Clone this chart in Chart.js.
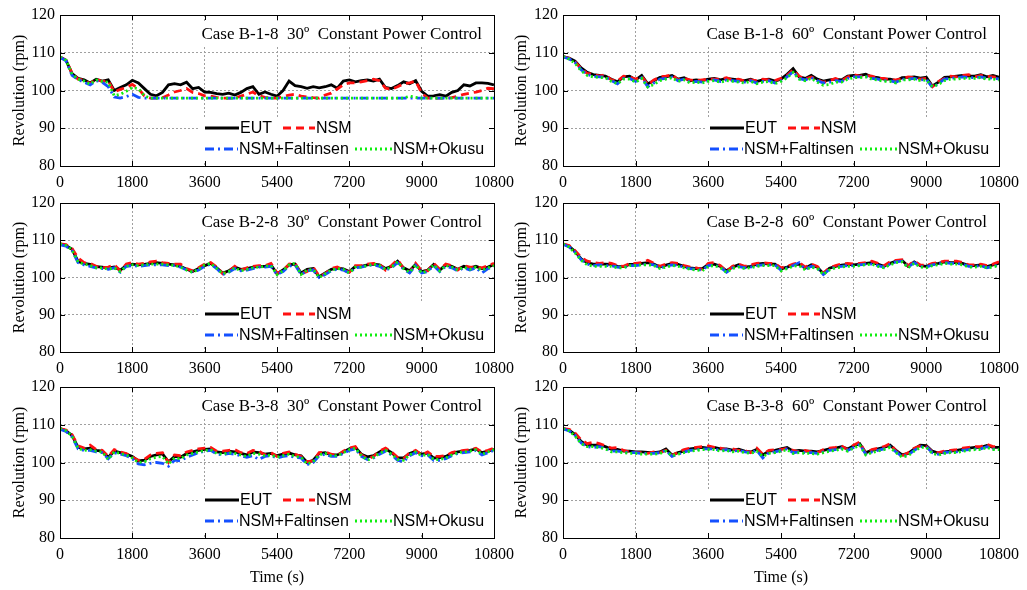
<!DOCTYPE html>
<html lang="en">
<head>
    <meta charset="UTF-8">
    <title>Revolution time series</title>
    <style>
        body {margin: 0; background: #fff;}
        #wrap {position: relative; width: 1027px; height: 590px; overflow: hidden;}
        #wrap canvas {position: absolute;}
    </style>
    <script src="https://cdn.jsdelivr.net/npm/chart.js@4.4.1/dist/chart.umd.min.js"></script>
</head>
<body>
<div id="wrap"></div>
<script>
// time axis, s (one sample every 150 s)
const times = [0,150,300,450,600,750,900,1050,1200,1350,1500,1650,
  1800,1950,2100,2250,2400,2550,2700,2850,3000,3150,3300,3450,
  3600,3750,3900,4050,4200,4350,4500,4650,4800,4950,5100,5250,
  5400,5550,5700,5850,6000,6150,6300,6450,6600,6750,6900,7050,
  7200,7350,7500,7650,7800,7950,8100,8250,8400,8550,8700,8850,
  9000,9150,9300,9450,9600,9750,9900,10050,10200,10350,10500,10650,
  10800];
const xTicks = [0,1800,3600,5400,7200,9000,10800];
const yTicks = [80,90,100,110,120];
const seriesNames = ['EUT','NSM','NSM+Faltinsen','NSM+Okusu'];

// Case B-1-8 30 deg
const b18_30_eut = [108.9,108.0,104.5,103.2,102.8,102.0,103.0,102.5,102.8,100.0,100.8,101.5,
  102.7,102.0,100.5,99.0,98.6,99.5,101.5,101.8,101.5,102.2,100.5,100.8,
  99.6,99.5,99.2,99.0,99.3,98.8,99.5,100.5,101.0,99.0,99.6,99.0,
  98.5,100.0,102.5,101.3,101.0,100.6,101.0,100.7,101.0,101.5,100.6,102.5,
  102.8,102.3,102.6,102.8,102.5,103.0,100.8,100.5,101.3,102.3,101.8,102.6,
  99.8,98.5,98.6,98.9,98.5,99.5,100.0,101.5,101.2,102.0,102.0,101.9,
  101.5];
const b18_30_nsm = [108.9,108.0,104.6,103.0,102.7,101.8,103.0,102.4,102.6,99.6,100.3,100.8,
  101.6,100.5,98.6,98.0,98.0,98.1,98.8,99.6,100.0,100.5,99.5,99.2,
  98.6,98.5,98.2,98.0,98.0,98.0,98.5,99.0,99.6,98.6,98.2,98.0,
  98.0,98.4,98.8,99.0,98.5,98.3,98.1,98.0,98.8,99.3,100.4,101.5,
  102.0,102.0,102.3,102.6,103.0,102.6,100.6,100.3,101.0,101.8,102.0,102.5,
  99.3,98.0,98.0,98.0,98.0,98.1,98.5,99.0,99.3,99.6,100.0,100.6,
  100.5];
const b18_30_falt = [108.8,107.9,104.0,102.9,102.2,101.5,102.6,102.2,101.0,98.3,98.0,98.4,
  99.0,98.2,98.0,98.0,98.0,98.0,98.0,98.0,98.0,98.0,98.0,98.0,
  98.0,98.0,98.0,98.0,98.0,98.0,98.0,98.0,98.0,98.0,98.0,98.0,
  98.0,98.0,98.0,98.0,98.0,98.0,98.0,98.0,98.0,98.0,98.0,98.0,
  98.0,98.0,98.0,98.0,98.0,98.0,98.0,98.0,98.0,98.0,98.0,98.0,
  98.0,98.0,98.0,98.0,98.0,98.0,98.0,98.0,98.0,98.0,98.0,98.0,
  98.0];
const b18_30_okusu = [108.9,108.0,104.3,103.0,102.5,101.7,102.8,102.4,102.2,98.6,99.0,99.8,
  100.8,100.5,98.6,98.0,98.0,98.0,98.0,98.0,98.0,98.0,98.0,98.0,
  98.0,98.0,98.0,98.0,98.0,98.0,98.0,98.0,98.0,98.0,98.0,98.0,
  98.0,98.0,98.0,98.0,98.0,98.0,98.0,98.0,98.0,98.0,98.0,98.0,
  98.0,98.0,98.0,98.0,98.0,98.0,98.0,98.0,98.0,98.0,98.5,98.2,
  98.0,98.0,98.0,98.0,98.0,98.0,98.0,98.0,98.0,98.0,98.0,98.0,
  98.0];

// Case B-1-8 60 deg
const b18_60_eut = [109.0,108.6,107.8,106.0,104.8,104.2,104.0,103.8,103.0,102.3,103.6,103.8,
  102.8,104.0,101.8,102.6,103.5,103.6,104.0,103.0,103.4,102.6,102.8,102.6,
  103.0,103.2,102.8,103.2,103.0,102.8,102.6,103.0,102.4,102.8,103.0,102.5,
  103.0,104.3,105.8,103.6,103.2,104.0,103.0,102.5,102.8,103.0,102.8,103.8,
  104.0,104.0,104.3,103.6,103.4,103.0,103.0,102.6,103.4,103.5,103.6,103.3,
  103.5,101.2,102.2,103.5,103.6,103.8,104.0,103.8,103.8,104.2,103.6,104.0,
  103.5];
const b18_60_nsm = [109.0,108.5,107.6,105.8,104.5,104.3,103.8,104.2,102.8,102.5,103.8,103.6,
  103.0,103.8,101.5,102.8,103.6,103.8,104.2,102.8,103.2,102.8,102.6,102.8,
  103.0,103.0,103.0,103.4,102.8,103.0,102.5,102.8,102.6,103.0,102.8,102.6,
  103.2,104.0,105.5,103.8,103.0,103.6,102.8,102.2,102.6,103.2,102.6,103.6,
  104.2,103.8,104.0,103.8,103.2,103.2,102.8,102.8,103.2,103.6,103.4,103.0,
  103.2,101.0,102.4,103.2,103.8,103.6,104.0,104.2,103.6,104.0,103.8,103.6,
  103.4];
const b18_60_falt = [108.9,108.4,107.4,105.5,104.2,103.8,103.6,103.6,102.6,101.8,103.2,103.2,
  102.4,103.4,101.0,102.0,103.0,103.2,103.6,102.6,103.0,102.2,102.4,102.2,
  102.6,102.8,102.4,102.8,102.6,102.4,102.2,102.6,102.0,102.4,102.6,102.0,
  102.6,103.6,105.0,103.2,102.8,103.4,102.6,102.0,102.2,102.6,102.4,103.2,
  103.6,103.6,103.8,103.2,103.0,102.6,102.6,102.2,103.0,103.0,103.2,102.8,
  103.0,100.8,101.8,103.0,103.2,103.4,103.6,103.4,103.4,103.6,103.2,103.4,
  103.0];
const b18_60_okusu = [109.0,108.3,107.2,105.2,104.0,103.6,103.4,103.4,102.4,101.8,103.0,103.0,
  102.2,103.2,100.9,101.6,102.6,103.0,103.4,102.4,102.8,102.0,102.2,102.0,
  102.4,102.6,102.2,102.6,102.4,102.2,102.0,102.4,101.8,102.2,102.4,101.8,
  102.4,103.4,104.8,103.0,102.6,103.2,102.2,101.4,101.6,102.2,102.2,103.0,
  103.4,103.4,103.6,103.0,102.8,102.4,102.4,102.0,102.8,102.8,103.0,102.6,
  102.8,101.0,101.6,102.6,103.0,103.0,103.2,103.2,103.2,103.4,103.0,103.0,
  102.8];

// Case B-2-8 30 deg
const b28_30_eut = [109.0,108.6,107.6,104.3,103.8,103.5,102.9,102.8,102.5,102.8,102.0,103.2,
  103.6,103.4,103.5,103.8,104.0,103.8,103.6,103.4,103.0,102.2,101.6,102.4,
  103.2,103.8,102.6,101.2,101.8,102.8,102.2,102.4,102.8,103.0,103.0,103.4,
  101.0,102.0,103.4,103.6,101.2,102.2,102.4,100.2,101.2,102.2,102.5,102.3,
  101.6,103.0,103.0,103.4,103.6,103.4,102.4,103.0,104.4,102.6,101.8,103.5,
  101.6,102.0,103.5,102.0,103.4,103.0,102.2,103.0,102.5,103.0,102.4,102.8,
  103.5];
const b28_30_nsm = [109.0,108.8,107.8,105.2,104.0,103.8,103.0,102.6,102.8,103.4,101.8,103.6,
  104.0,103.6,103.8,104.2,104.4,104.0,103.8,103.6,103.6,102.4,101.8,102.6,
  103.6,104.0,102.8,101.0,101.6,103.0,102.0,102.6,103.0,103.2,103.2,103.8,
  101.2,101.8,103.6,103.8,101.0,101.6,102.8,100.4,101.0,102.4,102.8,102.0,
  101.4,103.2,103.2,103.6,103.8,103.6,102.0,103.2,104.8,102.4,101.4,103.8,
  101.8,101.8,103.8,102.2,103.6,103.2,102.0,103.2,102.8,102.8,102.6,103.2,
  103.8];
const b28_30_falt = [108.8,108.4,107.2,104.0,103.4,103.0,102.6,102.4,102.2,102.6,101.4,103.0,
  103.2,103.0,103.2,103.4,103.4,103.4,103.2,103.2,102.8,102.0,101.4,102.0,
  103.0,103.6,102.4,100.8,101.4,102.4,101.8,102.0,102.4,102.8,102.8,103.0,
  100.8,101.6,103.0,103.4,100.8,101.8,102.0,100.0,100.8,101.8,102.2,102.0,
  101.2,102.6,102.8,103.2,103.4,103.0,102.0,102.6,104.0,102.2,101.2,103.2,
  101.2,101.6,103.2,101.6,103.0,102.6,101.8,102.6,102.0,102.6,101.2,102.4,
  102.8];
const b28_30_okusu = [109.0,108.6,107.4,104.2,103.6,103.2,102.6,102.6,102.2,102.6,101.6,103.0,
  103.4,103.2,103.4,103.6,103.6,103.6,103.4,103.2,102.8,102.0,101.4,102.2,
  103.4,103.8,102.4,101.0,101.6,102.6,101.8,102.2,102.6,102.8,103.0,103.2,
  100.8,101.8,103.4,103.8,100.8,102.0,102.2,100.0,101.0,102.0,102.4,102.2,
  101.2,102.8,102.8,103.2,103.6,103.2,102.2,102.8,104.2,102.4,101.4,103.4,
  101.2,101.8,103.4,101.8,103.2,102.8,102.0,102.8,102.2,102.8,102.0,102.6,
  103.2];

// Case B-2-8 60 deg
const b28_60_eut = [109.0,108.4,107.0,105.0,104.0,103.6,103.6,103.6,103.5,103.0,102.9,103.5,
  103.5,103.8,104.0,103.6,102.8,103.3,103.8,103.5,103.0,102.6,102.4,102.4,
  103.5,103.6,103.0,101.8,102.8,103.4,102.8,103.0,103.6,103.8,103.6,103.6,
  102.3,102.8,103.4,103.6,102.5,103.4,102.8,101.0,102.5,103.0,103.3,103.5,
  103.4,103.6,103.8,104.0,103.6,103.0,103.8,104.4,104.6,103.0,104.2,103.2,
  103.0,103.6,103.8,104.2,104.0,104.0,103.8,103.2,103.2,103.4,102.9,103.4,
  103.8];
const b28_60_nsm = [109.0,108.6,107.2,105.4,104.4,104.0,103.8,104.0,103.8,103.2,103.0,103.8,
  103.8,104.0,104.6,103.8,103.0,103.6,104.0,103.8,103.2,102.8,102.6,102.2,
  103.8,104.0,103.2,101.6,103.0,103.6,103.0,103.4,103.8,104.0,103.8,103.8,
  102.6,103.0,103.6,104.0,102.8,103.6,103.0,101.2,102.6,103.2,103.6,103.8,
  103.6,103.8,104.0,104.4,103.8,103.2,104.2,104.6,104.8,103.2,104.4,103.4,
  103.2,103.8,104.0,104.4,104.4,104.4,104.0,103.4,103.4,103.6,103.2,103.6,
  104.2];
const b28_60_falt = [108.9,108.2,106.8,104.8,103.6,103.2,103.4,103.2,103.2,102.8,102.6,103.2,
  103.2,103.4,103.6,103.4,102.6,103.0,103.4,103.2,102.8,102.4,102.2,102.0,
  103.2,103.4,102.8,101.4,102.6,103.0,102.6,102.8,103.2,103.4,103.4,103.4,
  102.0,102.6,103.2,104.0,102.2,103.0,102.6,100.8,102.2,102.8,103.0,103.2,
  103.2,103.4,103.6,103.6,103.2,102.8,103.6,104.2,104.4,102.8,104.0,103.0,
  102.8,103.4,103.6,104.0,103.8,103.8,103.6,103.0,103.0,103.2,102.6,103.0,
  103.4];
const b28_60_okusu = [109.0,108.2,106.6,104.6,103.4,103.0,103.0,103.0,103.0,102.6,102.6,103.2,
  103.2,103.4,103.4,103.2,102.4,102.8,103.2,103.0,102.6,102.2,102.0,101.8,
  103.0,103.2,102.6,101.4,102.4,102.8,102.4,102.6,103.0,103.2,103.2,103.2,
  101.8,102.4,103.0,103.2,102.0,102.8,102.4,100.8,102.0,102.6,102.8,103.0,
  103.0,103.2,103.4,103.6,103.0,102.6,103.4,104.0,104.2,102.6,103.8,102.8,
  102.6,103.2,103.4,103.8,103.6,103.6,103.4,102.8,102.8,103.0,102.6,102.8,
  103.2];

// Case B-3-8 30 deg
const b38_30_eut = [109.0,108.4,107.2,104.0,103.6,103.8,103.2,103.0,101.4,103.0,102.6,102.2,
  101.6,100.4,100.6,101.6,102.0,102.3,100.2,101.6,101.4,102.4,102.8,103.2,
  103.5,103.6,102.8,102.6,103.0,102.8,102.4,102.0,102.8,102.6,102.2,102.4,
  101.8,102.2,102.5,102.0,101.8,100.0,100.6,102.4,102.6,102.0,102.0,102.8,
  103.6,104.0,102.2,101.5,101.8,102.8,103.6,102.6,101.2,101.2,102.4,103.0,
  102.2,102.5,101.2,101.3,101.6,102.4,102.8,103.0,103.2,103.6,102.6,103.0,
  103.5];
const b38_30_nsm = [109.0,108.6,107.4,104.4,103.8,104.6,103.4,103.2,101.6,103.4,102.8,102.4,
  101.4,100.6,100.8,102.0,102.4,102.6,100.0,102.0,101.8,102.8,103.2,103.6,
  103.8,104.0,103.0,103.0,103.2,103.4,102.6,102.4,103.2,103.0,102.0,102.6,
  101.6,102.4,102.8,102.2,101.6,100.2,100.4,102.6,102.8,102.2,101.8,103.0,
  103.8,104.2,102.0,101.0,101.6,103.0,103.8,102.8,101.4,101.0,102.6,103.2,
  102.0,102.8,101.6,101.6,101.8,102.6,103.0,103.2,103.4,103.8,102.8,103.2,
  103.8];
const b38_30_falt = [108.8,108.2,106.8,103.6,103.2,103.2,102.8,102.6,101.0,102.6,102.2,101.8,
  101.0,99.6,99.4,99.8,100.0,99.8,99.0,100.6,100.4,101.4,102.0,102.6,
  103.0,103.2,102.2,102.0,102.4,102.2,101.8,101.4,101.8,100.8,101.6,101.8,
  101.2,101.6,101.8,101.4,101.2,99.4,100.0,101.8,102.2,101.6,101.6,102.4,
  103.2,103.6,101.6,100.8,101.2,102.2,103.0,102.0,100.6,100.2,101.8,102.6,
  101.8,102.0,100.6,100.6,101.0,101.8,102.4,102.6,102.8,103.2,102.0,102.6,
  103.2];
const b38_30_okusu = [109.0,108.4,107.0,103.8,103.2,103.4,103.0,102.8,100.8,102.8,102.4,102.0,
  101.2,100.0,100.2,101.0,101.4,101.6,99.6,101.2,101.0,102.0,102.4,102.8,
  103.2,103.4,102.4,102.2,102.6,102.4,102.0,101.6,102.4,102.2,101.8,102.0,
  101.4,101.8,102.2,101.6,101.4,99.6,100.2,102.0,102.4,101.8,101.8,102.6,
  103.4,103.8,101.8,100.6,101.4,102.4,103.2,102.2,100.8,100.6,102.0,102.8,
  101.8,102.2,100.8,100.8,101.2,102.0,102.6,102.8,103.0,103.4,102.2,102.8,
  103.4];

// Case B-3-8 60 deg
const b38_60_eut = [109.0,108.6,107.4,105.6,104.6,104.6,104.6,104.2,103.5,103.5,103.0,103.0,
  102.8,102.8,102.7,102.6,102.8,103.6,102.0,102.6,103.0,103.6,103.8,104.0,
  103.8,104.0,103.6,103.6,103.3,103.5,103.0,102.8,103.5,102.0,103.0,103.2,
  103.6,104.0,103.0,103.2,103.0,103.0,102.8,103.2,103.6,103.8,104.2,103.6,
  104.4,105.0,102.6,103.2,103.6,104.0,104.6,103.2,102.0,102.4,103.6,104.6,
  104.5,103.0,102.5,102.8,103.0,103.2,103.5,103.8,104.0,104.0,104.5,104.0,
  104.0];
const b38_60_nsm = [109.0,108.8,107.8,106.0,105.0,105.4,105.0,104.4,103.8,104.0,103.2,102.8,
  102.6,102.6,102.4,102.8,102.6,103.2,101.8,102.8,103.4,103.8,104.0,104.2,
  104.4,104.0,103.8,103.4,103.6,103.2,103.2,102.6,103.8,102.2,103.2,103.4,
  103.4,103.8,103.2,102.8,103.2,102.8,102.6,103.4,103.8,104.0,104.4,103.4,
  104.6,105.4,102.4,103.4,103.8,104.2,105.0,103.0,101.8,102.6,103.8,104.4,
  104.2,102.8,102.6,103.0,103.2,103.4,103.8,104.0,104.2,104.2,104.8,104.2,
  104.2];
const b38_60_falt = [108.9,108.4,107.2,105.2,104.2,104.0,104.2,103.8,103.0,103.0,102.8,102.6,
  102.6,102.4,102.4,102.4,102.6,103.2,101.6,102.2,102.8,103.2,103.4,103.6,
  103.6,103.6,103.2,103.4,103.0,103.2,102.8,102.6,103.2,101.2,102.6,102.8,
  103.2,103.6,102.6,102.8,102.6,102.6,102.4,102.8,103.2,103.4,103.8,103.2,
  104.0,104.8,102.2,102.8,103.2,103.6,104.2,102.8,101.6,102.0,103.2,104.2,
  104.2,102.6,102.2,102.6,102.8,102.8,103.2,103.4,103.6,103.6,104.2,103.6,
  103.6];
const b38_60_okusu = [109.0,108.4,107.0,105.0,104.2,104.2,104.0,103.6,102.8,102.8,102.6,102.4,
  102.4,102.2,102.2,102.2,102.4,103.0,101.8,102.2,102.6,103.0,103.2,103.4,
  103.4,103.4,103.0,103.2,102.8,103.0,102.6,102.4,103.0,101.6,102.4,102.6,
  103.0,103.4,102.4,102.6,102.4,102.4,102.2,102.6,103.0,103.2,103.6,103.0,
  103.8,104.6,102.0,102.6,103.0,103.4,104.0,102.6,101.4,101.8,103.0,104.0,
  104.0,102.4,102.0,102.4,102.6,102.6,103.0,103.2,103.4,103.4,104.0,103.4,
  103.4];

const panels = [
  {title: 'Case B-1-8  30º  Constant Power Control', col: 0, row: 0, series: [b18_30_eut, b18_30_nsm, b18_30_falt, b18_30_okusu]},
  {title: 'Case B-1-8  60º  Constant Power Control', col: 1, row: 0, series: [b18_60_eut, b18_60_nsm, b18_60_falt, b18_60_okusu]},
  {title: 'Case B-2-8  30º  Constant Power Control', col: 0, row: 1, series: [b28_30_eut, b28_30_nsm, b28_30_falt, b28_30_okusu]},
  {title: 'Case B-2-8  60º  Constant Power Control', col: 1, row: 1, series: [b28_60_eut, b28_60_nsm, b28_60_falt, b28_60_okusu]},
  {title: 'Case B-3-8  30º  Constant Power Control', col: 0, row: 2, series: [b38_30_eut, b38_30_nsm, b38_30_falt, b38_30_okusu]},
  {title: 'Case B-3-8  60º  Constant Power Control', col: 1, row: 2, series: [b38_60_eut, b38_60_nsm, b38_60_falt, b38_60_okusu]}
];

const colors = ['#000000', '#ff1010', '#1450ff', '#10ee10'];
const dashes = [[], [8, 5], [9, 4, 2, 4], [2, 3]];
const FONT = '"Liberation Serif", "Times New Roman", serif';
const SANS = '"Liberation Sans", Arial, sans-serif';

// canvas boxes (plot area is placed by paddings / axis sizes)
const colGeom = [{left: 0, width: 525, yw: 60, padR: 31, titlePad: 10},
                 {left: 505, width: 522, yw: 58, padR: 28, titlePad: 7}];
const rowGeom = [{top: 0, h: 196, xh: 30}, {top: 188, h: 194, xh: 30}, {top: 372, h: 218, xh: 52}];

// white boxes behind title / legend, then the text and legend samples, frame and inner ticks
const decorPlugin = {
  id: 'decor',
  beforeDatasetsDraw(chart) {
    const a = chart.chartArea, ctx = chart.ctx;
    ctx.save();
    ctx.fillStyle = '#fff';
    ctx.fillRect(a.right - 296, a.top + 8, 290, 23);
    ctx.fillRect(a.right - 294, a.bottom - 49, 290, 44);
    ctx.restore();
  },
  afterDatasetsDraw(chart) {
    const a = chart.chartArea, ctx = chart.ctx;
    const p = chart.options.plugins.decor;
    const xs = chart.scales.x, ys = chart.scales.y;
    ctx.save();
    ctx.fillStyle = '#000';
    ctx.font = '17px ' + FONT;
    ctx.textAlign = 'right';
    ctx.textBaseline = 'middle';
    ctx.fillText(p.title, a.right - 12, a.top + 20);

    // legend
    const items = [
      {x0: a.right - 289, x1: a.right - 255, y: a.bottom - 38},
      {x0: a.right - 211, x1: a.right - 179, y: a.bottom - 38},
      {x0: a.right - 289, x1: a.right - 256, y: a.bottom - 17},
      {x0: a.right - 139, x1: a.right - 102, y: a.bottom - 17}
    ];
    ctx.textAlign = 'left';
    ctx.font = '16px ' + SANS;
    items.forEach((it, i) => {
      ctx.strokeStyle = colors[i];
      ctx.lineWidth = 2.8;
      ctx.setLineDash(dashes[i]);
      ctx.beginPath();
      ctx.moveTo(it.x0, it.y);
      ctx.lineTo(it.x1, it.y);
      ctx.stroke();
      ctx.setLineDash([]);
      ctx.fillStyle = '#000';
      ctx.fillText(seriesNames[i], it.x1 + 1, it.y + 1);
    });

    // frame and inward ticks
    ctx.strokeStyle = '#000';
    ctx.lineWidth = 1;
    ctx.strokeRect(Math.round(a.left) + 0.5, Math.round(a.top) + 0.5,
                   Math.round(a.right - a.left), Math.round(a.bottom - a.top));
    ctx.beginPath();
    xTicks.forEach(v => {
      const x = Math.round(xs.getPixelForValue(v)) + 0.5;
      ctx.moveTo(x, a.bottom); ctx.lineTo(x, a.bottom - 5);
      ctx.moveTo(x, a.top); ctx.lineTo(x, a.top + 5);
    });
    yTicks.forEach(v => {
      const y = Math.round(ys.getPixelForValue(v)) + 0.5;
      ctx.moveTo(a.left, y); ctx.lineTo(a.left + 5, y);
      ctx.moveTo(a.right, y); ctx.lineTo(a.right - 5, y);
    });
    ctx.stroke();
    ctx.restore();
  }
};

const wrap = document.getElementById('wrap');
panels.forEach(p => {
  const cg = colGeom[p.col], rg = rowGeom[p.row];
  const cv = document.createElement('canvas');
  cv.width = cg.width; cv.height = rg.h;
  cv.style.left = cg.left + 'px'; cv.style.top = rg.top + 'px';
  cv.style.width = cg.width + 'px'; cv.style.height = rg.h + 'px';
  wrap.appendChild(cv);

  const datasets = p.series.map((vals, i) => ({
    label: seriesNames[i],
    data: times.map((t, k) => ({x: t, y: vals[k]})),
    borderColor: colors[i],
    borderWidth: 2.8,
    borderDash: dashes[i],
    pointRadius: 0,
    fill: false,
    tension: 0,
    order: 4 - i
  }));

  new Chart(cv, {
    type: 'line',
    data: {datasets: datasets},
    plugins: [decorPlugin],
    options: {
      responsive: false,
      animation: false,
      events: [],
      layout: {padding: {top: 15, right: cg.padR, left: 0, bottom: 0}},
      plugins: {
        legend: {display: false},
        tooltip: {enabled: false},
        decor: {title: p.title}
      },
      scales: {
        x: {
          type: 'linear', min: 0, max: 10800,
          afterFit(s) { s.height = rg.xh; },
          afterBuildTicks(s) { s.ticks = xTicks.map(v => ({value: v})); },
          ticks: {color: '#000', font: {family: FONT, size: 16}, padding: 7, maxRotation: 0,
                  autoSkip: false, callback: v => String(v)},
          grid: {color: '#a0a0a0', lineWidth: 1, drawTicks: false},
          border: {display: false, dash: [2, 2]},
          title: {display: p.row === 2, text: 'Time (s)', color: '#000',
                  font: {family: FONT, size: 16}, padding: {top: 0, bottom: 3}}
        },
        y: {
          min: 80, max: 120,
          afterFit(s) { s.width = cg.yw; },
          afterBuildTicks(s) { s.ticks = yTicks.map(v => ({value: v})); },
          ticks: {color: '#000', font: {family: FONT, size: 16}, padding: 5, callback: v => String(v)},
          grid: {color: '#a0a0a0', lineWidth: 1, drawTicks: false},
          border: {display: false, dash: [2, 2]},
          title: {display: true, text: 'Revolution (rpm)', color: '#000',
                  font: {family: FONT, size: 16}, padding: {top: cg.titlePad, bottom: 0}}
        }
      }
    }
  });
});
</script>
</body>
</html>
